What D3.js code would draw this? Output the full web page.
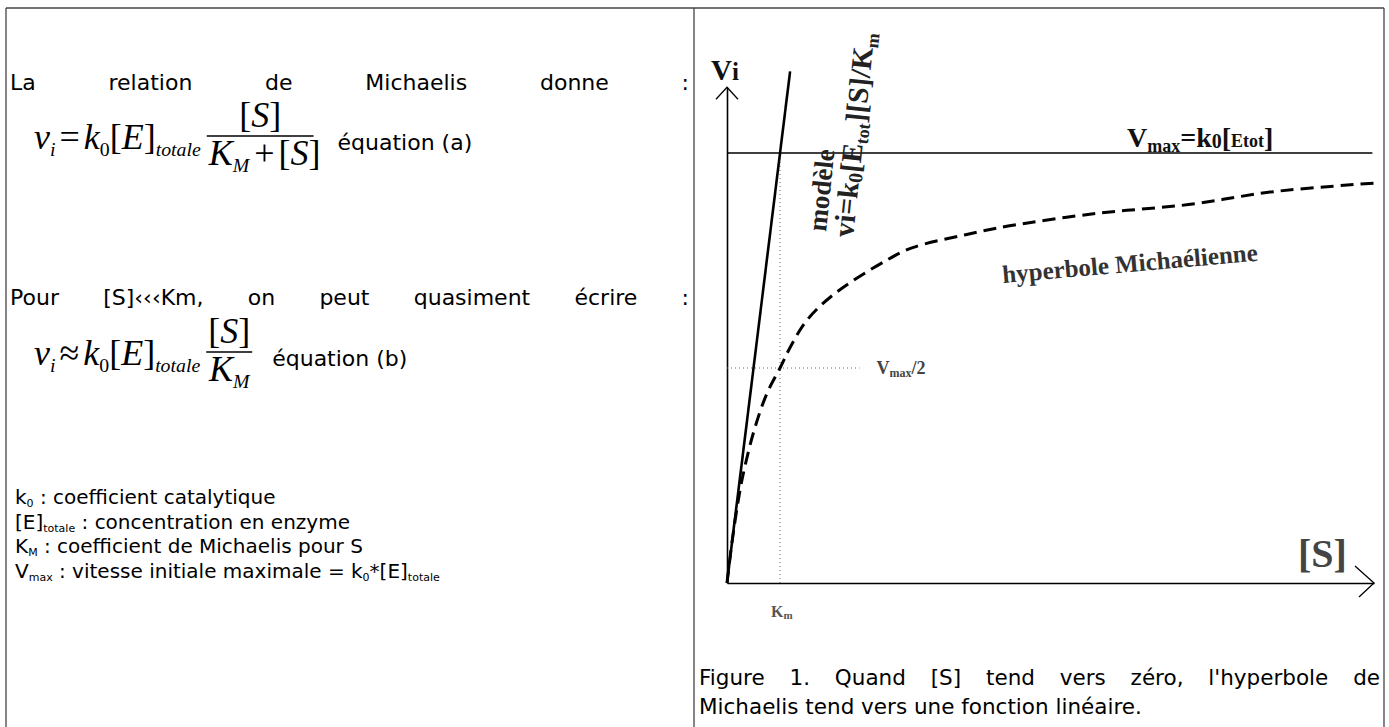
<!DOCTYPE html>
<html lang="fr">
<head>
<meta charset="UTF-8" />
<title>Relation de Michaelis</title>
<script src="https://d3js.org/d3.v7.min.js"></script>
<style>
  body { margin: 0; background: #fff; }
  svg { display: block; }
  .txt { font-family: "Comic Sans MS", "DejaVu Sans", sans-serif; fill: #000; }
  .math { font-family: "Liberation Serif", "Times New Roman", serif; fill: #000; }
  .fig { font-family: "Liberation Serif", "Times New Roman", serif; font-weight: bold; }
</style>
</head>
<body>
<svg id="chart" width="1389" height="727"></svg>
<script>
// hyperbole de Michaelis ([S] en unites de Km, vi en unites de Vmax)
const sHyper = [0, 0.1, 0.21, 0.3, 0.5, 0.75, 1, 1.2, 1.5, 2, 3, 3.5, 4.5, 5.3, 7, 8.7, 10.3, 12.2];
const vHyper = [0, 0.1, 0.19, 0.25, 0.35, 0.44, 0.5, 0.55, 0.61, 0.67, 0.75, 0.78, 0.81, 0.83, 0.86, 0.88, 0.91, 0.93];
// droite modele vi = k0[Etot][S]/Km
const sModel = [0, 1.19];
const vModel = [0, 1.19];
const kmValue = 1;
const vmaxValue = 1;
const sAxisEnd = 12.2;
const vAxisEnd = 1.153;
const sVmaxEnd = 12.17;
const sHalfEnd = 2.5;

// textes
const line1Words = ["La", "relation", "de", "Michaelis", "donne", ":"];
const line2Words = ["Pour", "[S]\u2039\u2039\u2039Km,", "on", "peut", "quasiment", "\u00e9crire", ":"];
const captionWords = ["Figure", "1.", "Quand", "[S]", "tend", "vers", "z\u00e9ro,", "l'hyperbole", "de"];
const captionLine2 = "Michaelis tend vers une fonction lin\u00e9aire.";
const definitions = [
  [{ t: "k" }, { t: "0", sub: true }, { t: " : coefficient catalytique" }],
  [{ t: "[E]" }, { t: "totale", sub: true }, { t: " : concentration en enzyme" }],
  [{ t: "K" }, { t: "M", sub: true }, { t: " : coefficient de Michaelis pour S" }],
  [{ t: "V" }, { t: "max", sub: true }, { t: " : vitesse initiale maximale = k" }, { t: "0", sub: true },
   { t: "*[E]" }, { t: "totale", sub: true }]
];

const svg = d3.select("#chart");

// texte avec indices
function rich(parent, x, y, parts, size, cls) {
  const t = parent.append("text").attr("class", cls).attr("x", x).attr("y", y);
  let cur = 0;
  parts.forEach((p) => {
    const off = p.off !== undefined ? p.off : p.sub ? size * 0.15 : 0;
    t.append("tspan")
      .attr("dy", off - cur)
      .attr("dx", p.dx || null)
      .style("font-size", (p.size || (p.sub ? size * 0.55 : size)) + "px")
      .style("font-style", p.it ? "italic" : null)
      .text(p.t);
    cur = off;
  });
  return t;
}

function justify(parent, words, y, x0, x1, size) {
  const nodes = words.map((w) =>
    parent.append("text").attr("class", "txt").attr("y", y).style("font-size", size + "px").text(w)
  );
  const widths = nodes.map((n) => n.node().getComputedTextLength());
  const gap = (x1 - x0 - d3.sum(widths)) / (words.length - 1);
  let x = x0;
  nodes.forEach((n, i) => {
    n.attr("x", x);
    x += widths[i] + gap;
  });
}

// cadre du tableau
const frame = svg.append("g").attr("stroke", "#444").attr("stroke-width", 1.3);
frame.append("line").attr("x1", 6).attr("x2", 1384).attr("y1", 8).attr("y2", 8);
frame.append("line").attr("x1", 6).attr("x2", 6).attr("y1", 8).attr("y2", 727);
frame.append("line").attr("x1", 694).attr("x2", 694).attr("y1", 8).attr("y2", 727);
frame.append("line").attr("x1", 1384).attr("x2", 1384).attr("y1", 8).attr("y2", 727);

// ---- cellule gauche ----
const left = svg.append("g");
const textSize = 22;
justify(left, line1Words, 90, 10, 689, textSize);
justify(left, line2Words, 305, 10, 689, textSize);

const mathSize = 36;
function equation(y, lhsParts, numParts, denParts, label, labelGap) {
  const lhs = rich(left, 34, y, lhsParts, mathSize, "math");
  const lhsEnd = 34 + lhs.node().getComputedTextLength() + 10;
  const barY = y - 13;
  const num = rich(left, 0, barY - 9, numParts, mathSize, "math");
  const den = rich(left, 0, barY + 29, denParts, mathSize, "math");
  const numW = num.node().getComputedTextLength();
  const denW = den.node().getComputedTextLength();
  const fracW = Math.max(numW, denW) + 4;
  const fx = lhsEnd + 4;
  num.attr("x", fx + (fracW - numW) / 2);
  den.attr("x", fx + (fracW - denW) / 2);
  left.append("line").attr("x1", fx).attr("x2", fx + fracW)
    .attr("y1", barY).attr("y2", barY).attr("stroke", "#000").attr("stroke-width", 1.5);
  left.append("text").attr("class", "txt").attr("x", fx + fracW + labelGap).attr("y", y + 1)
    .style("font-size", textSize + "px").text(label);
}

const sub = (t, it) => ({ t, sub: true, it, size: mathSize * 0.55, off: mathSize * 0.2 });
equation(
  149,
  [{ t: "v", it: true }, sub("i", true), { t: "=", dx: 4, off: 0 }, { t: "k", it: true, dx: 4 }, sub("0"),
   { t: "[", off: 0 }, { t: "E", it: true }, { t: "]" }, sub("totale", true)],
  [{ t: "[" }, { t: "S", it: true }, { t: "]" }],
  [{ t: "K", it: true }, sub("M", true), { t: "+", dx: 5, off: 0 }, { t: "[", dx: 4 }, { t: "S", it: true }, { t: "]" }],
  "\u00e9quation (a)", 24
);
equation(
  365,
  [{ t: "v", it: true }, sub("i", true), { t: "\u2248", dx: 4, off: 0 }, { t: "k", it: true, dx: 4 }, sub("0"),
   { t: "[", off: 0 }, { t: "E", it: true }, { t: "]" }, sub("totale", true)],
  [{ t: "[" }, { t: "S", it: true }, { t: "]" }],
  [{ t: "K", it: true }, sub("M", true)],
  "\u00e9quation (b)", 20
);

definitions.forEach((d, i) => {
  rich(left, 15, 504 + i * 24.5, d, 20, "txt");
});

// ---- cellule droite : figure ----
const x = d3.scaleLinear().domain([0, sAxisEnd]).range([727, 1374]);
const y = d3.scaleLinear().domain([0, vmaxValue]).range([583, 153]);
const fig = svg.append("g");

const xAxis = d3.axisBottom(x).tickValues([]).tickSizeOuter(0);
const yAxis = d3.axisLeft(y.copy().domain([0, vAxisEnd]).range([583, y(vAxisEnd)])).tickValues([]).tickSizeOuter(0);
fig.append("g").attr("transform", `translate(0,${y(0)})`).call(xAxis)
  .select(".domain").attr("stroke", "#000").attr("stroke-width", 1.6);
fig.append("g").attr("transform", `translate(${x(0)},0)`).call(yAxis)
  .select(".domain").attr("stroke", "#000").attr("stroke-width", 1.6);

// fleches
fig.append("path")
  .attr("d", `M${x(0) - 11},${y(vAxisEnd) + 12}L${x(0)},${y(vAxisEnd)}L${x(0) + 11},${y(vAxisEnd) + 12}`)
  .attr("fill", "none").attr("stroke", "#000").attr("stroke-width", 1.3);
fig.append("path")
  .attr("d", `M${x(sAxisEnd) - 19},${y(0) - 17}L${x(sAxisEnd)},${y(0)}L${x(sAxisEnd) - 15},${y(0) + 14}`)
  .attr("fill", "none").attr("stroke", "#000").attr("stroke-width", 1.3);

// pointilles Km et Vmax/2
fig.append("line")
  .attr("x1", x(kmValue)).attr("x2", x(kmValue)).attr("y1", y(0)).attr("y2", y(0.99))
  .attr("stroke", "#666").attr("stroke-width", 1).attr("stroke-dasharray", "1,3");
fig.append("line")
  .attr("x1", x(0)).attr("x2", x(sHalfEnd)).attr("y1", y(vmaxValue / 2)).attr("y2", y(vmaxValue / 2))
  .attr("stroke", "#666").attr("stroke-width", 1).attr("stroke-dasharray", "1,3");

// asymptote Vmax
fig.append("line")
  .attr("x1", x(0)).attr("x2", x(sVmaxEnd)).attr("y1", y(vmaxValue)).attr("y2", y(vmaxValue))
  .attr("stroke", "#000").attr("stroke-width", 1.5);

// droite modele
const line = d3.line().x((d) => x(d[0])).y((d) => y(d[1]));
fig.append("path")
  .datum(d3.zip(sModel, vModel))
  .attr("d", line)
  .attr("fill", "none").attr("stroke", "#000").attr("stroke-width", 2.6);

// hyperbole
fig.append("path")
  .datum(d3.zip(sHyper, vHyper))
  .attr("d", line.curve(d3.curveCatmullRom))
  .attr("fill", "none").attr("stroke", "#000").attr("stroke-width", 3)
  .attr("stroke-dasharray", "13,7");

// etiquettes
rich(fig, 711, 80, [{ t: "V", size: 29 }, { t: "i", size: 25, off: 0 }], 29, "fig").attr("fill", "#111");
rich(fig, 1127, 147,
  [{ t: "V" }, { t: "max", size: 18, off: 5 }, { t: "=k", off: 0 }, { t: "0", size: 20, off: 1 },
   { t: "[", off: 0 }, { t: "Etot", size: 18, off: 0 }, { t: "]", off: 0 }], 28, "fig").attr("fill", "#111");

rich(fig, 826, 232, [{ t: "mod\u00e8le" }], 27, "fig")
  .attr("fill", "#222").attr("transform", "rotate(-84,826,232)");
rich(fig, 853, 238,
  [{ t: "vi=k" }, { t: "0", size: 20, off: 3 }, { t: "[E", off: 0 }, { t: "tot", size: 18, off: 5 },
   { t: "][S]/K", off: 0 }, { t: "m", size: 18, off: 5 }], 29, "fig")
  .attr("fill", "#222").attr("transform", "rotate(-84,853,238)");

rich(fig, 1003, 283, [{ t: "hyperbole Micha\u00e9lienne" }], 25, "fig")
  .attr("fill", "#333").attr("transform", "rotate(-5,1003,283)");

rich(fig, x(sHalfEnd) + 17, y(vmaxValue / 2) + 6,
  [{ t: "V" }, { t: "max", size: 12, off: 3 }, { t: "/2", off: 0 }], 18, "fig").attr("fill", "#444");
rich(fig, x(kmValue) - 9, 617, [{ t: "K" }, { t: "m", size: 11, off: 2 }], 16, "fig").attr("fill", "#555");
rich(fig, 1298, 567, [{ t: "[S]" }], 40, "fig").attr("fill", "#444");

// legende de la figure
justify(svg, captionWords, 685, 699, 1380, 21.5);
svg.append("text").attr("class", "txt").attr("x", 699).attr("y", 714)
  .style("font-size", "21.5px").text(captionLine2);
</script>
</body>
</html>
